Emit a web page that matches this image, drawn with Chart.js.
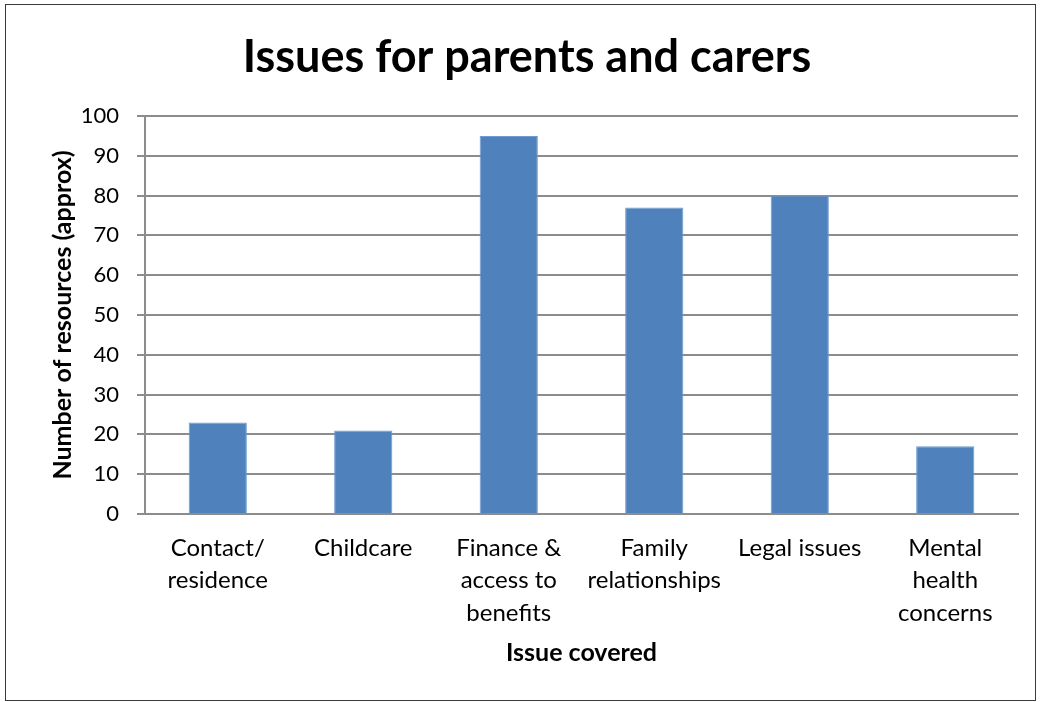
<!DOCTYPE html>
<html>
<head>
<meta charset="utf-8">
<title>Issues for parents and carers</title>
<script src="https://cdn.jsdelivr.net/npm/chart.js@4/dist/chart.umd.min.js"></script>
<style>
  html, body { margin: 0; padding: 0; background: #fff; }
  #wrap { position: relative; width: 1041px; height: 702px; }
  #frame {
    position: absolute; left: 5px; top: 4px; width: 1029px; height: 695px;
    border: 1px solid #3a3a3a; pointer-events: none;
  }
</style>
</head>
<body>
<div id="wrap">
  <canvas id="chart" width="1041" height="702"></canvas>
  <div id="frame"></div>
</div>
<script>
// 이슈별 자료 수 (대략)
const categories = [
    ['Contact/', 'residence'],
    'Childcare',
    ['Finance &', 'access to', 'benefits'],
    ['Family', 'relationships'],
    'Legal issues',
    ['Mental', 'health', 'concerns']
];
const resourceCounts = [23, 21, 95, 77, 80, 17];
const yTicks = [0, 10, 20, 30, 40, 50, 60, 70, 80, 90, 100];

const FONT = "Lato, 'Open Sans', sans-serif";
const gridColor = '#8c8c8c';

const ctx = document.getElementById('chart');
new Chart(ctx, {
    type: 'bar',
    data: {
        labels: categories,
        datasets: [{
            label: 'Number of resources',
            data: resourceCounts,
            backgroundColor: '#4F81BD',
            borderColor: '#6f9bd0',
            borderWidth: 1,
            categoryPercentage: 1,
            barPercentage: 0.4
        }]
    },
    options: {
        responsive: false,
        animation: false,
        layout: { padding: { left: 36, right: 23, top: 0, bottom: 0 } },
        plugins: {
            legend: { display: false },
            tooltip: { enabled: false },
            title: {
                display: true,
                text: 'Issues for parents and carers',
                color: '#000',
                font: { family: FONT, size: 45, weight: 'bold', lineHeight: 1.1 },
                padding: { top: 33, bottom: 33.5 }
            }
        },
        scales: {
            x: {
                afterFit: (scale) => { scale.height = 702 - 514; },
                grid: { display: false, drawTicks: false },
                border: { display: true, color: gridColor, width: 2 },
                ticks: {
                    color: '#000',
                    padding: 18,
                    maxRotation: 0,
                    autoSkip: false,
                    font: { family: FONT, size: 24, lineHeight: 1.35 }
                },
                title: {
                    display: true,
                    text: 'Issue covered',
                    color: '#000',
                    font: { family: FONT, size: 25, weight: 'bold', lineHeight: 1.2 },
                    padding: { top: 0, bottom: 34 }
                }
            },
            y: {
                min: 0,
                max: 100,
                afterFit: (scale) => { scale.width = 145 - 36; },
                afterBuildTicks: (scale) => { scale.ticks = yTicks.map(v => ({ value: v })); },
                grid: { color: gridColor, lineWidth: 2, tickLength: 8, drawTicks: true },
                border: { display: true, color: gridColor, width: 2 },
                ticks: {
                    color: '#000',
                    padding: 18,
                    font: { family: FONT, size: 22 }
                },
                title: {
                    display: true,
                    text: 'Number of resources (approx)',
                    color: '#000',
                    font: { family: FONT, size: 25, weight: 'bold', lineHeight: 1.2 },
                    padding: { top: 12, bottom: 0 }
                }
            }
        }
    }
});
</script>
</body>
</html>
